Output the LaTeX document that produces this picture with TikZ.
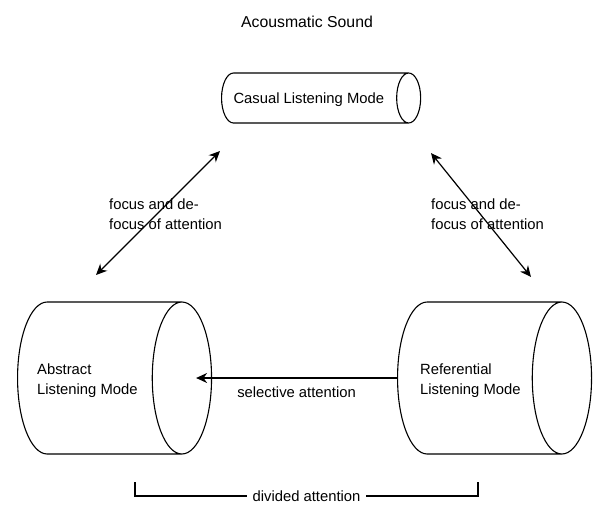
\documentclass[tikz,border=0pt]{standalone}
\usepackage{fontspec}
\setmainfont{Liberation Sans}
\usetikzlibrary{shapes.geometric, positioning, arrows.meta}

\tikzset{
  mode/.style={cylinder, draw, line width=1.1pt, shape border rotate=0, inner sep=0pt, anchor=west},
  bigmode/.style={mode, text height=76pt, text depth=76pt, minimum height=194pt, aspect=0.39},
  modetext/.style={align=left, inner sep=0pt, anchor=west},
  attn/.style={line width=1.2pt, {Stealth[length=11pt,width=10pt]}-{Stealth[length=11pt,width=10pt]}},
  sel/.style={line width=1.2pt, -{Stealth[length=11pt,width=10pt]}},
}

\begin{document}
\begin{tikzpicture}[x=1pt, y=1pt, font=\fontsize{14.8}{20}\selectfont]
  \useasboundingbox (0,0) rectangle (602,-506);

  \node[font=\fontsize{15.8}{20}\selectfont] (title) at (307,-22) {Acousmatic Sound};

  % the three listening modes
  \node[mode, text height=30pt, text depth=20pt, minimum height=186pt, aspect=0.48] (casual) at (221,-98) {Casual Listening Mode\hspace*{12pt}};
  \node[bigmode] (abs) at (17,-378) {};
  \node[bigmode] (ref) at (397,-378) {};
  \node[modetext] (abstxt) [right=20pt of abs.west, yshift=-3pt] {Abstract\\Listening Mode};
  \node[modetext] (reftxt) [right=23pt of ref.west, yshift=-3pt] {Referential\\Listening Mode};

  % focus and de-focus
  \draw[attn] ([shift={(-1,-53)}]casual.west) -- ([shift={(79,103)}]abs.west);
  \draw[attn] ([shift={(210,-55)}]casual.west) -- ([shift={(134,101)}]ref.west);
  \node[modetext] (lfocus) at (109,-214) {focus and de-\\focus of attention};
  \node[modetext] (rfocus) at (431,-214) {focus and de-\\focus of attention};

  % selective attention
  \draw[sel] (ref.west) -- ([xshift=-16pt]abs.east)
    node[midway, below=7pt, inner sep=1pt] (seltxt) {selective attention};

  % divided attention
  \coordinate (divl) at ([shift={(118,-104)}]abs.west);
  \coordinate (divr) at ([shift={(81,-104)}]ref.west);
  \draw[line width=1.1pt] (divl) -- ++(0,-14) coordinate (divbl) -- (divbl -| divr)
    node[midway, fill=white, inner xsep=6pt, inner ysep=1pt] (divtxt) {divided attention} -- (divr);
\end{tikzpicture}
\end{document}
